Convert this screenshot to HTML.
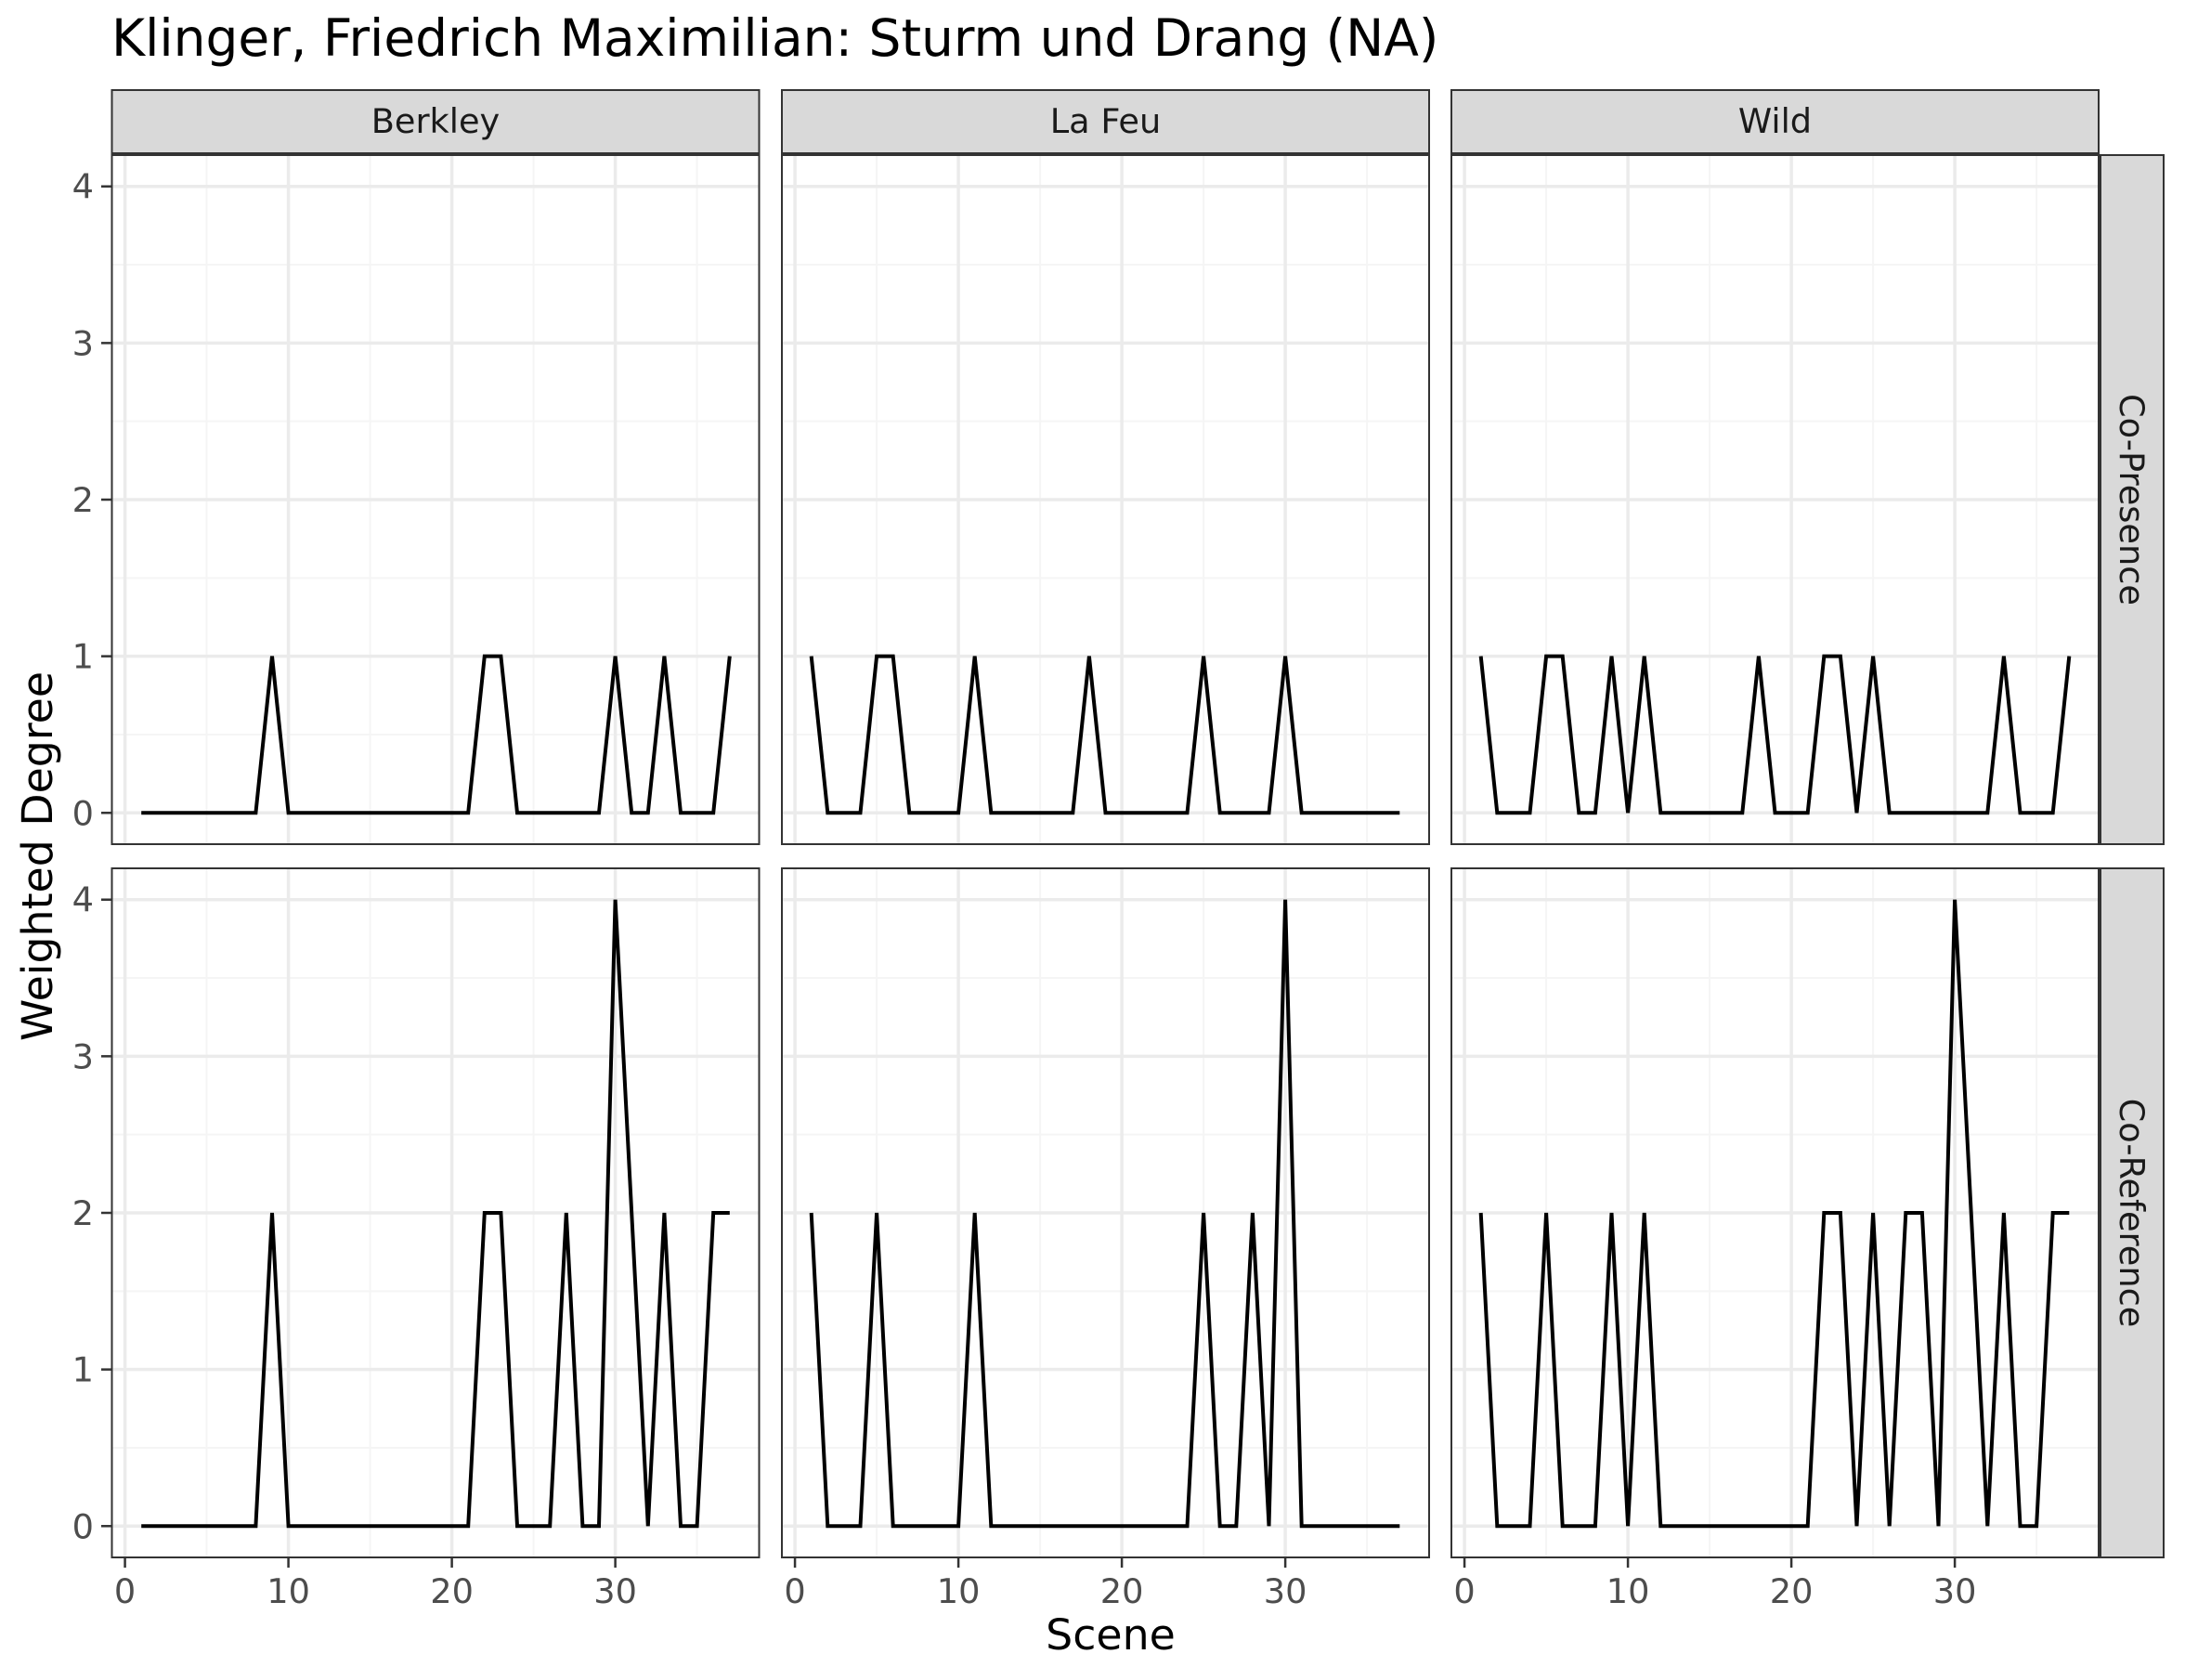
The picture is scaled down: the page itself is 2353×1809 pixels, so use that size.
<!DOCTYPE html>
<html><head><meta charset="utf-8"><style>
html,body{margin:0;padding:0;background:#fff;}
svg{display:block;font-family:"DejaVu Sans","Liberation Sans",sans-serif;}
</style></head><body>
<svg id="chart" width="2353" height="1809" viewBox="0 0 2353 1809" xmlns="http://www.w3.org/2000/svg">
<text x="120" y="60" font-size="55" fill="#000">Klinger, Friedrich Maximilian: Sturm und Drang (NA)</text>
<text transform="translate(56,922) rotate(-90)" text-anchor="middle" font-size="45.8" fill="#000">Weighted Degree</text>
<text x="1196" y="1776" text-anchor="middle" font-size="45.8" fill="#000">Scene</text>
</svg>
<script>
const scenes = [1,2,3,4,5,6,7,8,9,10,11,12,13,14,15,16,17,18,19,20,21,22,23,24,25,26,27,28,29,30,31,32,33,34,35,36,37];
const characters = ["Berkley","La Feu","Wild"];
const measures = ["Co-Presence","Co-Reference"];
const berkleyPresence = [0,0,0,0,0,0,0,0,1,0,0,0,0,0,0,0,0,0,0,0,0,1,1,0,0,0,0,0,0,1,0,0,1,0,0,0,1];
const berkleyReference = [0,0,0,0,0,0,0,0,2,0,0,0,0,0,0,0,0,0,0,0,0,2,2,0,0,0,2,0,0,4,2,0,2,0,0,2,2];
const lafeuPresence = [1,0,0,0,1,1,0,0,0,0,1,0,0,0,0,0,0,1,0,0,0,0,0,0,1,0,0,0,0,1,0,0,0,0,0,0,0];
const lafeuReference = [2,0,0,0,2,0,0,0,0,0,2,0,0,0,0,0,0,0,0,0,0,0,0,0,2,0,0,2,0,4,0,0,0,0,0,0,0];
const wildPresence = [1,0,0,0,1,1,0,0,1,0,1,0,0,0,0,0,0,1,0,0,0,1,1,0,1,0,0,0,0,0,0,0,1,0,0,0,1];
const wildReference = [2,0,0,0,2,0,0,0,2,0,2,0,0,0,0,0,0,0,0,0,0,2,2,0,2,0,2,2,0,4,2,0,2,0,0,2,2];
const xTicks = [0,10,20,30];
const yTicks = [0,1,2,3,4];
const series = [[berkleyPresence,lafeuPresence,wildPresence],[berkleyReference,lafeuReference,wildReference]];

const NS = "http://www.w3.org/2000/svg";
const svg = document.getElementById("chart");
const panelX = [120.5, 842, 1563];
const panelW = 697;
const panelY = [167, 935];
const panelH = 742;
const xMin = -0.8, xMax = 38.8, yMin = -0.2, yMax = 4.2;
function el(tag, attrs, parent){const e=document.createElementNS(NS,tag);for(const k in attrs)e.setAttribute(k,attrs[k]);(parent||svg).appendChild(e);return e;}
function sx(c,v){return panelX[c]+(v-xMin)/(xMax-xMin)*panelW;}
function sy(r,v){return panelY[r]+panelH-(v-yMin)/(yMax-yMin)*panelH;}

for(let c=0;c<3;c++){
  const g=el("g",{});
  
  
  el("rect",{x:panelX[c],y:97,width:panelW,height:68,fill:"#d9d9d9",stroke:"#333","stroke-width":2},g);
  const t=el("text",{x:panelX[c]+panelW/2,y:143,"text-anchor":"middle","font-size":36.7,fill:"#1a1a1a"},g);
  t.textContent=characters[c];
}
for(let r=0;r<2;r++){
  const g=el("g",{});
  
  
  el("rect",{x:2262,y:panelY[r],width:68,height:panelH,fill:"#d9d9d9",stroke:"#333","stroke-width":2},g);
  const t=el("text",{transform:`translate(2283,${panelY[r]+panelH/2}) rotate(90)`,"text-anchor":"middle","font-size":36.7,fill:"#1a1a1a"},g);
  t.textContent=measures[r];
}

for(let r=0;r<2;r++){
  for(let c=0;c<3;c++){
    const g=el("g",{});
    
    
    const x0=panelX[c], y0=panelY[r];
    for(let v=5;v<=35;v+=10) el("line",{x1:sx(c,v),x2:sx(c,v),y1:y0,y2:y0+panelH,stroke:"#f5f5f5","stroke-width":2},g);
    for(let v=0.5;v<4;v+=1) el("line",{x1:x0,x2:x0+panelW,y1:sy(r,v),y2:sy(r,v),stroke:"#f5f5f5","stroke-width":2},g);
    xTicks.forEach(v=>el("line",{x1:sx(c,v),x2:sx(c,v),y1:y0,y2:y0+panelH,stroke:"#ebebeb","stroke-width":3.5},g));
    yTicks.forEach(v=>el("line",{x1:x0,x2:x0+panelW,y1:sy(r,v),y2:sy(r,v),stroke:"#ebebeb","stroke-width":3.5},g));
    const vals=series[r][c];
    const pts=scenes.map((s,i)=>sx(c,s).toFixed(1)+","+sy(r,vals[i]).toFixed(1)).join(" ");
    const pl=el("polyline",{points:pts,fill:"none",stroke:"#000","stroke-width":4,"stroke-linejoin":"miter"},g);
    
    
    el("rect",{x:x0,y:y0,width:panelW,height:panelH,fill:"none",stroke:"#333","stroke-width":2},g);
  }
}
for(let r=0;r<2;r++){
  yTicks.forEach(v=>{
    el("line",{x1:109,x2:120.5,y1:sy(r,v),y2:sy(r,v),stroke:"#333","stroke-width":2.5});
    const t=el("text",{x:101,y:sy(r,v)+13,"text-anchor":"end","font-size":36.7,fill:"#4d4d4d"});
    
    
    t.textContent=v;
  });
}
for(let c=0;c<3;c++){
  xTicks.forEach(v=>{
    const yb=panelY[1]+panelH;
    el("line",{x1:sx(c,v),x2:sx(c,v),y1:yb,y2:yb+11,stroke:"#333","stroke-width":2.5});
    const t=el("text",{x:sx(c,v),y:1726,"text-anchor":"middle","font-size":36.7,fill:"#4d4d4d"});
    
    
    t.textContent=v;
  });
}
</script>
</body></html>
